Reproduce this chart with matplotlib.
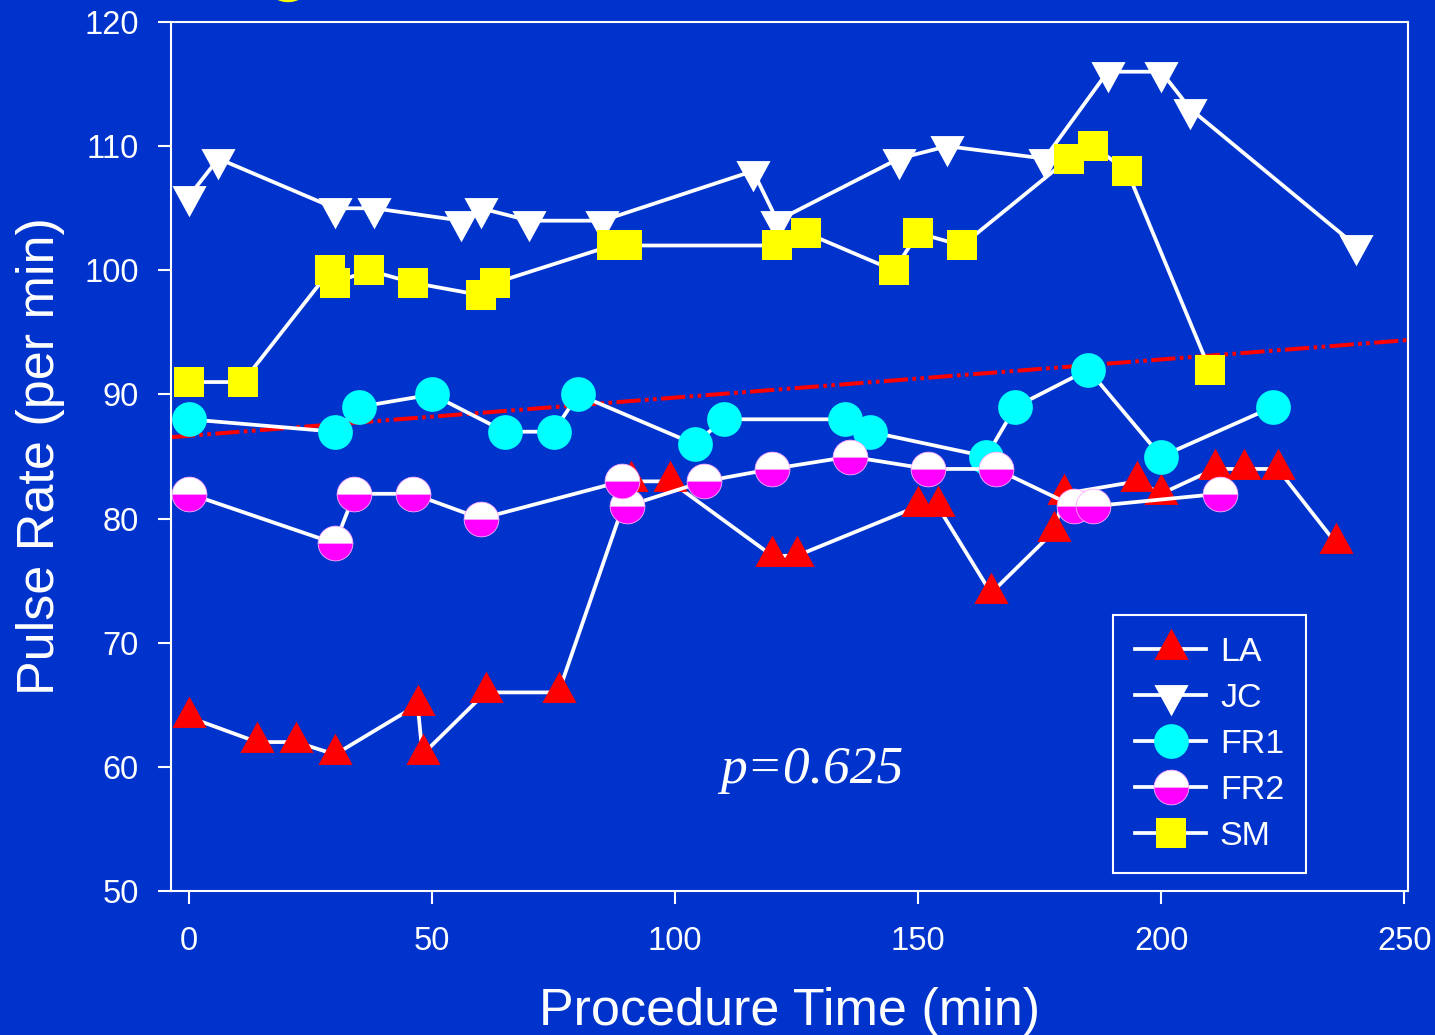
import matplotlib
matplotlib.use('Agg')
import matplotlib.pyplot as plt
from matplotlib.patches import Ellipse

bg = '#0033cc'

# procedure time (min) and pulse rate (per min) for each patient
la_t = [0, 14, 22, 30, 47, 48, 61, 76, 91, 99, 120, 125, 150, 154, 165, 178, 180, 195, 200, 211, 217, 224, 236]
la_p = [64, 62, 62, 61, 65, 61, 66, 66, 83, 83, 77, 77, 81, 81, 74, 79, 82, 83, 82, 84, 84, 84, 78]

jc_t = [0, 6, 30, 38, 56, 60, 70, 85, 116, 121, 146, 156, 176, 189, 200, 206, 240]
jc_p = [106, 109, 105, 105, 104, 105, 104, 104, 108, 104, 109, 110, 109, 116, 116, 113, 102]

fr1_t = [0, 30, 35, 50, 65, 75, 80, 104, 110, 135, 140, 164, 170, 185, 200, 223]
fr1_p = [88, 87, 89, 90, 87, 87, 90, 86, 88, 88, 87, 85, 89, 92, 85, 89]

fr2_t = [0, 30, 34, 46, 60, 89, 90, 106, 120, 136, 152, 166, 182, 186, 212]
fr2_p = [82, 78, 82, 82, 80, 83, 81, 83, 84, 85, 84, 84, 81, 81, 82]

sm_t = [0, 11, 29, 30, 37, 46, 60, 63, 87, 90, 121, 127, 145, 150, 159, 181, 186, 193, 210]
sm_p = [91, 91, 100, 99, 100, 99, 98, 99, 102, 102, 102, 103, 100, 103, 102, 109, 110, 108, 92]

# regression line end points
fit_t = [-3.8, 250.7]
fit_p = [86.56, 94.38]

p_text = 'p=0.625'
p_pos = (128, 58.7)

tri_up = [(0, 1), (-0.82, -0.5), (0.82, -0.5)]
tri_dn = [(0, -1), (-0.82, 0.5), (0.82, 0.5)]

plt.rcParams['font.family'] = ['Liberation Sans', 'DejaVu Sans']

fig = plt.figure(figsize=(14.35, 10.35), dpi=100, facecolor=bg)
ax = fig.add_axes([0.119, 0.1391, 0.8619, 0.8396], facecolor=bg)

ax.plot(fit_t, fit_p, color='red', lw=2.9, linestyle=(0, (6, 1.1, 0.9, 1.1, 0.9, 1.1)), zorder=1)

lw = 2.7
ax.plot(la_t, la_p, color='white', lw=lw, marker=tri_up, ms=30, mfc='red', mec='red', mew=0, label='LA')
ax.plot(jc_t, jc_p, color='white', lw=lw, marker=tri_dn, ms=30, mfc='white', mec='white', mew=0, label='JC')
ax.plot(fr1_t, fr1_p, color='white', lw=lw, marker='o', ms=25, mfc='cyan', mec='cyan', mew=0, label='FR1')
ax.plot(fr2_t, fr2_p, color='white', lw=lw, marker='o', ms=25, fillstyle='top', mfc='white',
        mfcalt='magenta', mec='#ffaaff', mew=0.6, label='FR2')
ax.plot(sm_t, sm_p, color='white', lw=lw, marker='s', ms=22.3, mfc='yellow', mec='yellow', mew=0, label='SM')

ax.text(p_pos[0], p_pos[1], p_text, ha='center', va='baseline', color='white', fontsize=38.5,
        family=['Liberation Serif', 'DejaVu Serif'], style='italic')

ax.set_xlim(-3.8, 250.7)
ax.set_ylim(50, 120)
ax.set_xticks(range(0, 251, 50))
ax.set_yticks(range(50, 121, 10))

for s in ax.spines.values():
    s.set_color('white')
    s.set_linewidth(1.5)
ax.tick_params(axis='both', colors='white', width=1.5, length=9.4, labelsize=23.5)
ax.tick_params(axis='y', pad=13.5)
ax.tick_params(axis='x', pad=15.5)

ax.set_xlabel('Procedure Time (min)', color='white', fontsize=37.5, labelpad=22)
ax.set_ylabel('Pulse Rate (per min)', color='white', fontsize=37.5, labelpad=14)

leg = ax.legend(loc='upper left', bbox_to_anchor=(0.7619, 0.3222 - 4 / 869), borderaxespad=0,
                fontsize=24.5, frameon=True, fancybox=False, handlelength=2.1,
                handletextpad=0.4, labelspacing=0.44, borderpad=0.64)
fr = leg.get_frame()
fr.set_facecolor(bg)
fr.set_edgecolor('white')
fr.set_linewidth(1.5)
fr.set_alpha(1)
for t in leg.get_texts():
    t.set_color('white')

# yellow shape cut off at the top edge
fig.patches.append(Ellipse((288 / 1435, 1 + 14 / 1035), 40 / 1435, 31 / 1035,
                           transform=fig.transFigure, color='yellow'))

fig.savefig('out.png', dpi=100, facecolor=bg)
